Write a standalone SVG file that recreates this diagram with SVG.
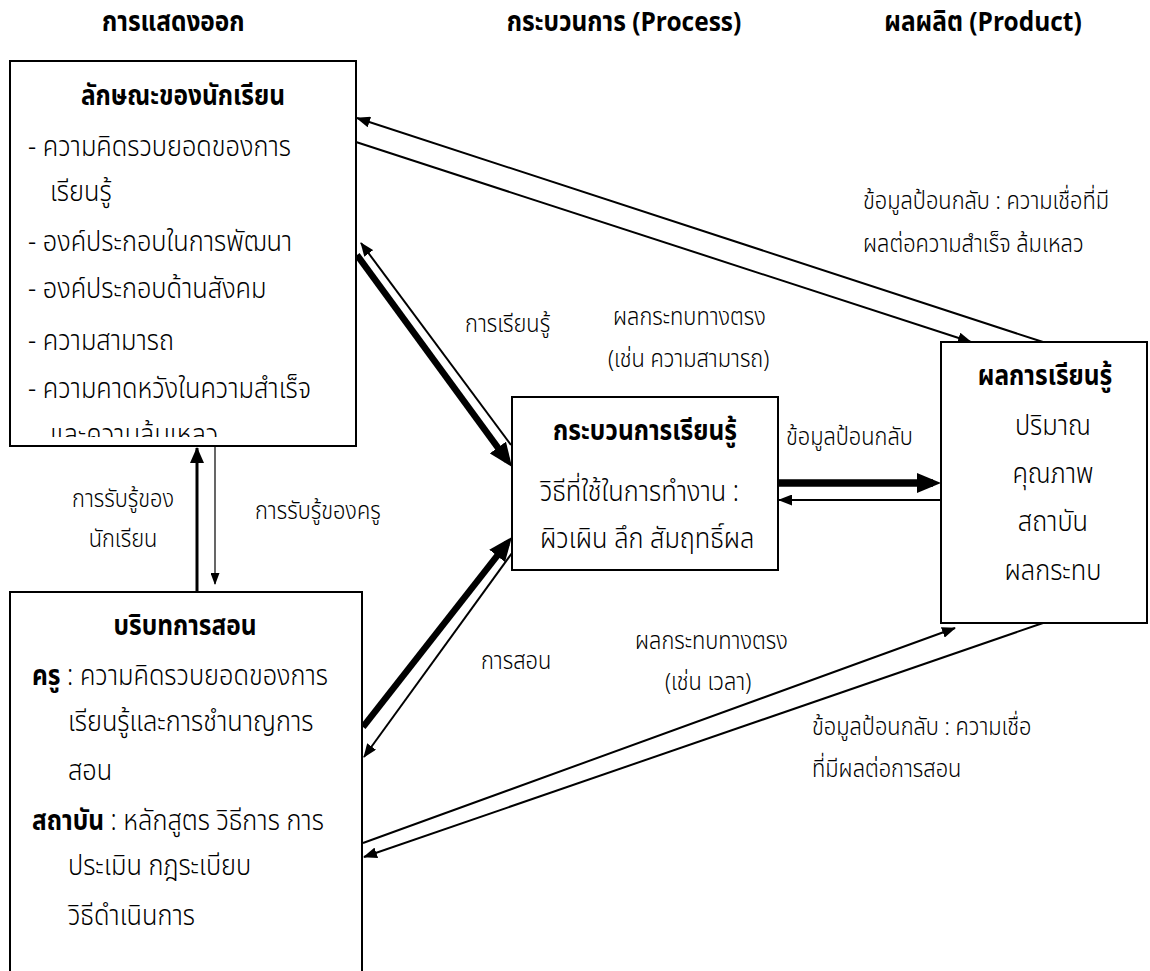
<svg xmlns="http://www.w3.org/2000/svg" width="1150" height="971" viewBox="0 0 1150 971">
<defs>
<style>
text{font-family:"Noto Sans Thai","Noto Sans Thai UI","Leelawadee UI",Tahoma,"DejaVu Sans","Noto Sans",sans-serif;fill:#000}
.h{font-size:27.5px;font-weight:bold}
.t{font-size:28.5px;font-weight:300}
.b{font-size:27.5px;font-weight:bold}
.l{font-size:24.5px;font-weight:300}
.c{text-anchor:middle}
.box{fill:#fff;stroke:#000;stroke-width:2}
.thin{stroke:#000;stroke-width:2;fill:none}
.med{stroke:#000;stroke-width:3;fill:none}
.hair{stroke:#000;stroke-width:1.2;fill:none}
.thick{stroke:#000;stroke-width:6.5;fill:none}
</style>
<marker id="aThin" markerUnits="userSpaceOnUse" markerWidth="14" markerHeight="11" refX="13" refY="5.5" orient="auto"><path d="M0,0 L14,5.5 L0,11 z" fill="#000"/></marker>
<marker id="aMed" markerUnits="userSpaceOnUse" markerWidth="16" markerHeight="14" refX="15" refY="7" orient="auto"><path d="M0,0 L16,7 L0,14 z" fill="#000"/></marker>
<marker id="aHair" markerUnits="userSpaceOnUse" markerWidth="12" markerHeight="9" refX="11" refY="4.5" orient="auto"><path d="M0,0 L12,4.5 L0,9 z" fill="#000"/></marker>
<marker id="aThick" markerUnits="userSpaceOnUse" markerWidth="24" markerHeight="20" refX="16" refY="10" orient="auto"><path d="M0,0 L24,10 L0,20 z" fill="#000"/></marker>
<clipPath id="clipTop" clipPathUnits="userSpaceOnUse"><rect x="0" y="61" width="500" height="376"/></clipPath>
</defs>
<rect width="1150" height="971" fill="#fff"/>

<g id="headers" transform="scale(0.89 1)">
<text class="h" x="114.6" y="31">การแสดงออก</text>
<text class="h c" x="701.1" y="31">กระบวนการ (Process)</text>
<text class="h c" x="1104.5" y="31">ผลผลิต (Product)</text>
</g>

<g id="connectors">
<line class="thin" x1="1043" y1="342" x2="357" y2="118" marker-end="url(#aThin)"/>
<line class="thin" x1="356" y1="142" x2="971" y2="342" marker-end="url(#aThin)"/>
<line class="thick" x1="357" y1="255" x2="507.3" y2="460.5" marker-end="url(#aThick)"/>
<line class="thin" x1="511" y1="445" x2="361" y2="243" marker-end="url(#aThin)"/>
<line class="med" x1="197" y1="592" x2="197" y2="448" marker-end="url(#aMed)"/>
<line class="hair" x1="215" y1="446" x2="215" y2="584" marker-end="url(#aHair)"/>
<line class="thick" x1="363" y1="727" x2="507" y2="543.3" marker-end="url(#aThick)"/>
<line class="thin" x1="512" y1="553" x2="364" y2="757" marker-end="url(#aThin)"/>
<line class="thick" x1="778" y1="483" x2="933" y2="483" marker-end="url(#aThick)" style="stroke-width:7.5"/>
<line class="thin" x1="941" y1="500" x2="779" y2="500" marker-end="url(#aThin)"/>
<line class="thin" x1="363" y1="843" x2="955" y2="628" marker-end="url(#aThin)"/>
<line class="thin" x1="1043" y1="623" x2="364" y2="857" marker-end="url(#aThin)"/>
</g>

<g id="node-student">
<rect class="box" x="10" y="61" width="346" height="385"/>
<g transform="scale(0.89 1)">
<text class="b c" x="205.6" y="105">ลักษณะของนักเรียน</text>
<text class="t" x="31.5" y="156">- ความคิดรวบยอดของการ</text>
<text class="t" x="56.2" y="201">เรียนรู้</text>
<text class="t" x="31.5" y="251">- องค์ประกอบในการพัฒนา</text>
<text class="t" x="31.5" y="298">- องค์ประกอบด้านสังคม</text>
<text class="t" x="31.5" y="350">- ความสามารถ</text>
<text class="t" x="31.5" y="398">- ความคาดหวังในความสำเร็จ</text>
<text class="t" x="56.2" y="444" clip-path="url(#clipTop)">และความล้มเหลว</text>
</g>
</g>

<g id="node-context">
<rect class="box" x="10" y="592" width="352" height="390"/>
<g transform="scale(0.89 1)">
<text class="b c" x="207.9" y="635">บริบทการสอน</text>
<text class="t" x="36" y="685"><tspan font-weight="bold" font-size="27.5px">ครู</tspan> : ความคิดรวบยอดของการ</text>
<text class="t" x="76.4" y="731">เรียนรู้และการชำนาญการ</text>
<text class="t" x="76.4" y="780">สอน</text>
<text class="t" x="36" y="830"><tspan font-weight="bold" font-size="27.5px">สถาบัน</tspan> : หลักสูตร วิธีการ การ</text>
<text class="t" x="76.4" y="875">ประเมิน กฎระเบียบ</text>
<text class="t" x="76.4" y="925">วิธีดำเนินการ</text>
</g>
</g>

<g id="node-process">
<rect class="box" x="512" y="397" width="266" height="173"/>
<g transform="scale(0.89 1)">
<text class="b c" x="724.7" y="440">กระบวนการเรียนรู้</text>
<text class="t" x="606.7" y="501">วิธีที่ใช้ในการทำงาน :</text>
<text class="t" x="606.7" y="548">ผิวเผิน ลึก สัมฤทธิ์ผล</text>
</g>
</g>

<g id="node-product">
<rect class="box" x="941" y="342" width="206" height="281"/>
<g transform="scale(0.89 1)">
<text class="b c" x="1174.2" y="385">ผลการเรียนรู้</text>
<text class="t c" x="1183.1" y="435">ปริมาณ</text>
<text class="t c" x="1183.1" y="483">คุณภาพ</text>
<text class="t c" x="1183.1" y="531">สถาบัน</text>
<text class="t c" x="1183.1" y="580">ผลกระทบ</text>
</g>
</g>

<g id="labels" transform="scale(0.89 1)">
<text class="l" x="969.7" y="209">ข้อมูลป้อนกลับ : ความเชื่อที่มี</text>
<text class="l" x="969.7" y="252">ผลต่อความสำเร็จ ล้มเหลว</text>
<text class="l" x="522.5" y="332">การเรียนรู้</text>
<text class="l" x="688.8" y="325">ผลกระทบทางตรง</text>
<text class="l" x="683.1" y="367">(เช่น ความสามารถ)</text>
<text class="l" x="883.1" y="445">ข้อมูลป้อนกลับ</text>
<text class="l c" x="138.2" y="507">การรับรู้ของ</text>
<text class="l c" x="138.2" y="547">นักเรียน</text>
<text class="l" x="286.5" y="519">การรับรู้ของครู</text>
<text class="l" x="540.4" y="669">การสอน</text>
<text class="l" x="713.5" y="649">ผลกระทบทางตรง</text>
<text class="l" x="747.2" y="690">(เช่น เวลา)</text>
<text class="l" x="912.4" y="735">ข้อมูลป้อนกลับ : ความเชื่อ</text>
<text class="l" x="912.4" y="777">ที่มีผลต่อการสอน</text>
</g>
</svg>
